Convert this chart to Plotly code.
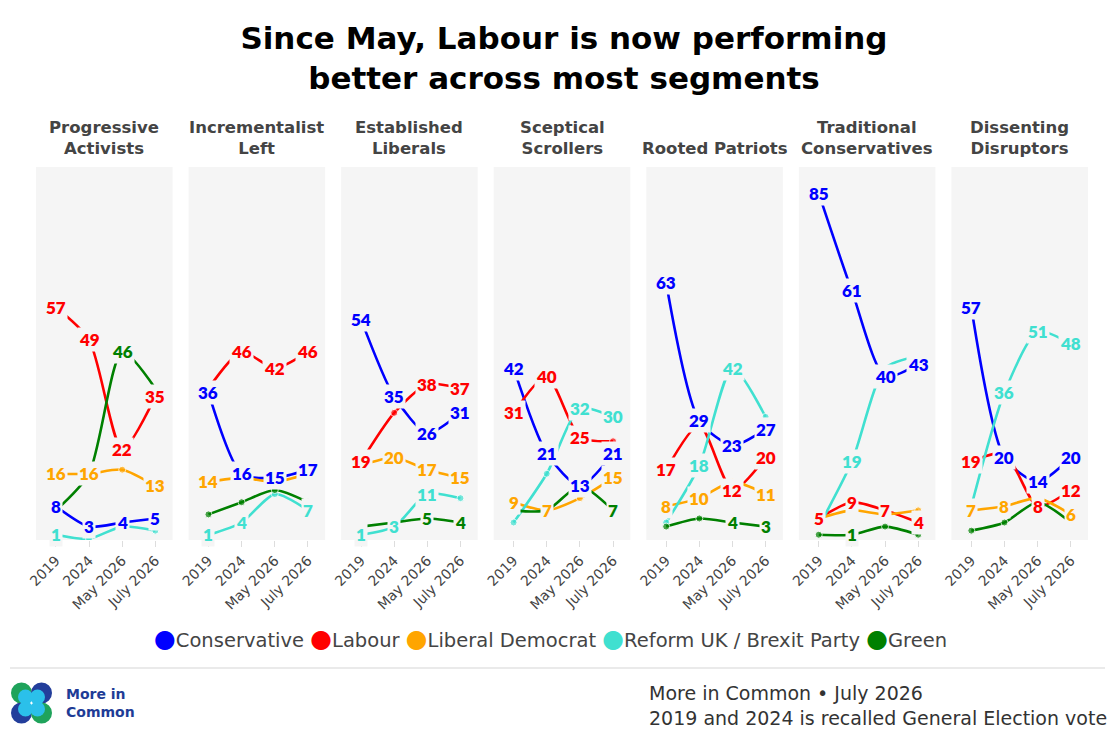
import plotly.graph_objects as go
from plotly.subplots import make_subplots

# ── data ──────────────────────────────────────
waves = ["2019", "2024", "May 2026", "July 2026"]
segments = [
    "Progressive<br>Activists",
    "Incrementalist<br>Left",
    "Established<br>Liberals",
    "Sceptical<br>Scrollers",
    "Rooted Patriots",
    "Traditional<br>Conservatives",
    "Dissenting<br>Disruptors",
]
parties = ["Conservative", "Labour", "Liberal Democrat", "Reform UK / Brexit Party", "Green"]

# one row per segment, one value per wave (%)
conservative = [
    [8, 3, 4, 5],
    [36, 16, 15, 17],
    [54, 35, 26, 31],
    [42, 21, 13, 21],
    [63, 29, 23, 27],
    [85, 61, 40, 43],
    [57, 20, 14, 20],
]
labour = [
    [57, 49, 22, 35],
    [37, 46, 42, 46],
    [19, 31, 38, 37],
    [31, 40, 25, 24],
    [17, 28, 12, 20],
    [5, 9, 7, 4],
    [19, 21, 8, 12],
]
libdem = [
    [16, 16, 17, 13],
    [14, 15, 14, 16],
    [18, 20, 17, 15],
    [9, 7, 10, 15],
    [8, 10, 14, 11],
    [5, 7, 6, 7],
    [7, 8, 10, 6],
]
reform = [
    [1, 0, 3, 2],
    [1, 4, 11, 7],
    [1, 3, 11, 10],
    [4, 16, 32, 30],
    [4, 18, 42, 30],
    [3, 19, 42, 45],
    [8, 36, 51, 48],
]
green = [
    [7, 16, 46, 37],
    [6, 9, 12, 9],
    [3, 4, 5, 4],
    [7, 7, 13, 7],
    [3, 5, 4, 3],
    [1, 1, 3, 1],
    [2, 4, 9, 4],
]
series = [conservative, labour, libdem, reform, green]

# points whose value label is dropped (party index, wave index) per segment
hidden_labels = [
    [(2, 2), (3, 1), (3, 2), (3, 3), (4, 0), (4, 1), (4, 3)],
    [(1, 0), (2, 1), (2, 2), (2, 3), (3, 2), (4, 0), (4, 1), (4, 2), (4, 3)],
    [(1, 1), (2, 0), (3, 3), (4, 0), (4, 1)],
    [(1, 3), (2, 2), (3, 0), (3, 1), (4, 0), (4, 1), (4, 2)],
    [(1, 1), (2, 2), (3, 0), (3, 3), (4, 0), (4, 1)],
    [(2, 0), (2, 1), (2, 2), (2, 3), (3, 0), (3, 2), (3, 3), (4, 0), (4, 2), (4, 3)],
    [(1, 1), (2, 2), (3, 0), (4, 0), (4, 1), (4, 2), (4, 3)],
]

# ── style ─────────────────────────────────────
COLORS = ["blue", "red", "orange", "turquoise", "green"]
PANEL_BG = "#f5f5f5"
FONT = "DejaVu Sans"
NUM_FONT = "Lato"
OFF = 8                      # page body margin the figure sits inside
W, H = 1120 - OFF, 746 - OFF
ML, MR, MT, MB = 28, 32, 159, 206


def px_x(px):
    # screen pixel -> paper x
    return (px - OFF - ML) / (W - ML - MR)


def px_y(py):
    # screen pixel -> paper y
    return (H - MB - (py - OFF)) / (H - MT - MB)


n = len(segments)
fig = make_subplots(rows=1, cols=n, horizontal_spacing=16 / (W - ML - MR))

annotations = []
for s in range(n):
    hidden = set(hidden_labels[s])
    xref = "x" if s == 0 else f"x{s + 1}"
    yref = "y" if s == 0 else f"y{s + 1}"
    for p, data in enumerate(series):
        vals = data[s]
        sizes = [7 if (p, w) in hidden else 0 for w in range(len(waves))]
        fig.add_trace(go.Scatter(
            x=waves, y=vals, mode="lines+markers",
            line=dict(color=COLORS[p], width=2.6, shape="spline", smoothing=0.7),
            marker=dict(color=COLORS[p], size=sizes),
            showlegend=False, hoverinfo="skip",
        ), row=1, col=s + 1)
        for w, v in enumerate(vals):
            if (p, w) in hidden:
                continue
            # category axis: position by index, "2019" would be read as a number
            annotations.append(dict(
                x=w, y=v, xref=xref, yref=yref, text=str(v),
                showarrow=False, bgcolor=PANEL_BG, borderpad=1,
                font=dict(family=NUM_FONT, size=17, color=COLORS[p], weight=800),
            ))

# segment titles
for s in range(n):
    xa = fig.layout["xaxis" if s == 0 else f"xaxis{s + 1}"]
    annotations.append(dict(
        x=(xa.domain[0] + xa.domain[1]) / 2, y=px_y(160), xref="paper", yref="paper",
        text=segments[s], showarrow=False, xanchor="center", yanchor="bottom",
        font=dict(family=FONT, size=16.5, color="#444", weight=700),
    ))

# legend as one line of text with coloured dots
legend_text = " ".join(
    f'<span style="color:{c};font-size:25px">●</span>{name}' for c, name in zip(COLORS, parties)
)
annotations.append(dict(
    x=px_x(550), y=px_y(638), xref="paper", yref="paper", text=legend_text,
    showarrow=False, xanchor="center", yanchor="middle",
    font=dict(family=FONT, size=19.5, color="#444"),
))

# logo text + footer
annotations += [
    dict(x=px_x(64), y=px_y(703), xref="paper", yref="paper", text="More in<br>Common",
         showarrow=False, xanchor="left", yanchor="middle", align="left",
         font=dict(family=FONT, size=14, color="#1e3c96", weight=700)),
    dict(x=px_x(647), y=px_y(705), xref="paper", yref="paper",
         text="More in Common • July 2026<br>2019 and 2024 is recalled General Election vote",
         showarrow=False, xanchor="left", yanchor="middle", align="left",
         font=dict(family=FONT, size=19, color="#333")),
]

shapes = [dict(type="line", xref="paper", yref="paper",
               x0=px_x(10), x1=px_x(1105), y0=px_y(668), y1=px_y(668),
               line=dict(color="#e3e3e3", width=1.5))]
# logo: four overlapping circles
r = 10.5
logo = [(21.5, 693, "#1fa35b", 1, 1), (41.5, 693, "#233e9b", -1, 1),
        (21.5, 713, "#233e9b", 1, -1), (41.5, 713, "#1fa35b", -1, -1)]
for cx, cy, col, dx, dy in logo:
    shapes.append(dict(type="circle", xref="paper", yref="paper", line_width=0, fillcolor=col,
                       x0=px_x(cx - r), x1=px_x(cx + r), y0=px_y(cy + r), y1=px_y(cy - r)))
for cx, cy, col, dx, dy in logo:
    ccx, ccy = cx + 4 * dx, cy + 4 * dy
    shapes.append(dict(type="circle", xref="paper", yref="paper", line_width=0, fillcolor="#2bc0ea",
                       x0=px_x(ccx - 7.5), x1=px_x(ccx + 7.5), y0=px_y(ccy + 7.5), y1=px_y(ccy - 7.5)))

fig.update_xaxes(
    type="category", range=[-0.6, 3.52], showgrid=False, zeroline=False, showline=False,
    ticks="outside", ticklen=6, tickcolor="#dddddd", tickangle=-45, automargin=False,
    tickfont=dict(family=FONT, size=14, color="#444"),
)
fig.update_yaxes(range=[-0.3, 91.5], visible=False, showgrid=False, zeroline=False,
                 automargin=False)

fig.update_layout(
    width=W, height=H,
    margin=dict(l=ML, r=MR, t=MT, b=MB),
    paper_bgcolor="white", plot_bgcolor=PANEL_BG,
    title=dict(text="Since May, Labour is now performing<br>better across most segments",
               x=0.5, xanchor="center", y=1 - 41 / H, yanchor="middle", yref="container",
               font=dict(family=FONT, size=31, color="black", weight=700)),
    showlegend=False,
    annotations=annotations,
    shapes=shapes,
    hovermode=False,
)

fig.write_html("out.html")
